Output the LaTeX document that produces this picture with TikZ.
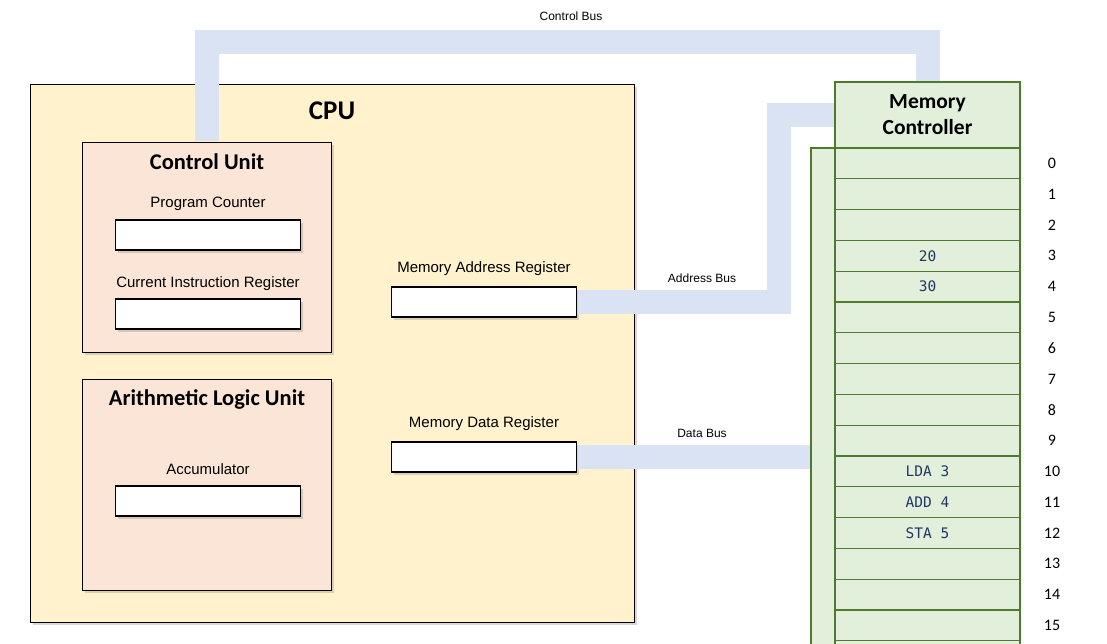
\documentclass[tikz,border=0pt]{standalone}
\usepackage{fontspec}
\setmainfont{Liberation Sans}
\newfontfamily\calfont{Carlito}
\newfontfamily\cellfont{DejaVu Sans Mono}
\usetikzlibrary{calc}
\usetikzlibrary{shadows}
\definecolor{cpuyellow}{HTML}{FFF2CC}
\definecolor{unitpeach}{HTML}{FBE5D6}
\definecolor{busblue}{HTML}{DAE3F3}
\definecolor{memgreen}{HTML}{E2EFDA}
\definecolor{memline}{HTML}{4E7A2E}
\definecolor{cellblue}{HTML}{1F3864}

\begin{document}
\begin{tikzpicture}[x=1pt,y=-1pt,inner sep=0pt,
  box/.style={draw=black,line width=0.8pt,drop shadow={opacity=0.3,shadow xshift=2.5pt,shadow yshift=-2.5pt}},
  unit/.style={box,fill=unitpeach,minimum width=249pt,minimum height=210pt},
  reg/.style={box,fill=white,line width=1.1pt,minimum width=185pt,minimum height=30pt},
  lbl/.style={font=\fontsize{15}{18}\selectfont},
  head/.style={font=\calfont\bfseries\fontsize{22.5}{26}\selectfont},
  bus/.style={draw=busblue,line width=24pt,shorten <=0.6pt,shorten >=0.6pt},
  buslbl/.style={font=\fontsize{12}{14}\selectfont},
  mem/.style={draw=memline,fill=memgreen,line width=1.3pt},
  cell/.style={mem,minimum width=185pt,minimum height=\ch pt},
  celltext/.style={text=cellblue,font=\cellfont\fontsize{14.5}{16}\selectfont},
  addr/.style={font=\calfont\fontsize{16}{18}\selectfont}]
\def\ch{30.8}
\clip (0,0) rectangle (1107,643);
\fill[white] (0,0) rectangle (1107,643);

\node[box,fill=cpuyellow,minimum width=604pt,minimum height=538pt] (cpu) at (332,353) {};
\node[head,font=\calfont\bfseries\fontsize{27}{30}\selectfont] (cputitle) at (332,111) {CPU};

\node[unit] (cu) at (206.5,247) {};
\node[head] (cutitle) at (207,162) {Control Unit};
\node[reg] (pc) at (208,235) {};
\node[lbl] at ($(pc)+(0,-31)$) {Program Counter};
\node[reg] (cir) at (208,314) {};
\node[lbl] at ($(cir)+(0,-30)$) {Current Instruction Register};

\node[unit,minimum height=211pt] (alu) at (206.5,484.5) {};
\node[head] (alutitle) at (207,399) {Arithmetic Logic Unit};
\node[reg] (acc) at (208,501) {};
\node[lbl] at ($(acc)+(0,-32)$) {Accumulator};

\node[reg] (mar) at (484,302) {};
\node[lbl] at ($(mar)+(0,-33)$) {Memory Address Register};
\node[reg] (mdr) at (484,457) {};
\node[lbl] at ($(mdr)+(0,-33)$) {Memory Data Register};

\node[mem,minimum width=24pt,minimum height=540pt] (strip) at (823,418) {};
\node[mem,head,font=\calfont\bfseries\fontsize{21.5}{26}\selectfont,align=center,minimum width=185pt,minimum height=66pt] (mc) at (927.5,115) {Memory\\Controller};
\foreach \i in {0,...,16}
  \node[cell] (m\i) at (927.5,{148+(\i+0.5)*\ch}) {};
\foreach \i/\t in {3/20,4/30,10/LDA 3,11/ADD 4,12/STA 5}
  \node[celltext] at (m\i) {\t};
\foreach \i in {0,...,15}
  \node[addr] at ($(m\i)+(124.5,0)$) {\i};

\draw[bus] (cu.north) -- ++(0,-100) -| (mc.north);
\draw[bus] (mar.east) -- ++(202,0) |- (mc.west);
\draw[bus] (mdr.east) -- (mdr.east -| strip.west);

\node[buslbl] at (571,16) {Control Bus};
\node[buslbl] at (702,278) {Address Bus};
\node[buslbl] at (702,433) {Data Bus};
\end{tikzpicture}
\end{document}
